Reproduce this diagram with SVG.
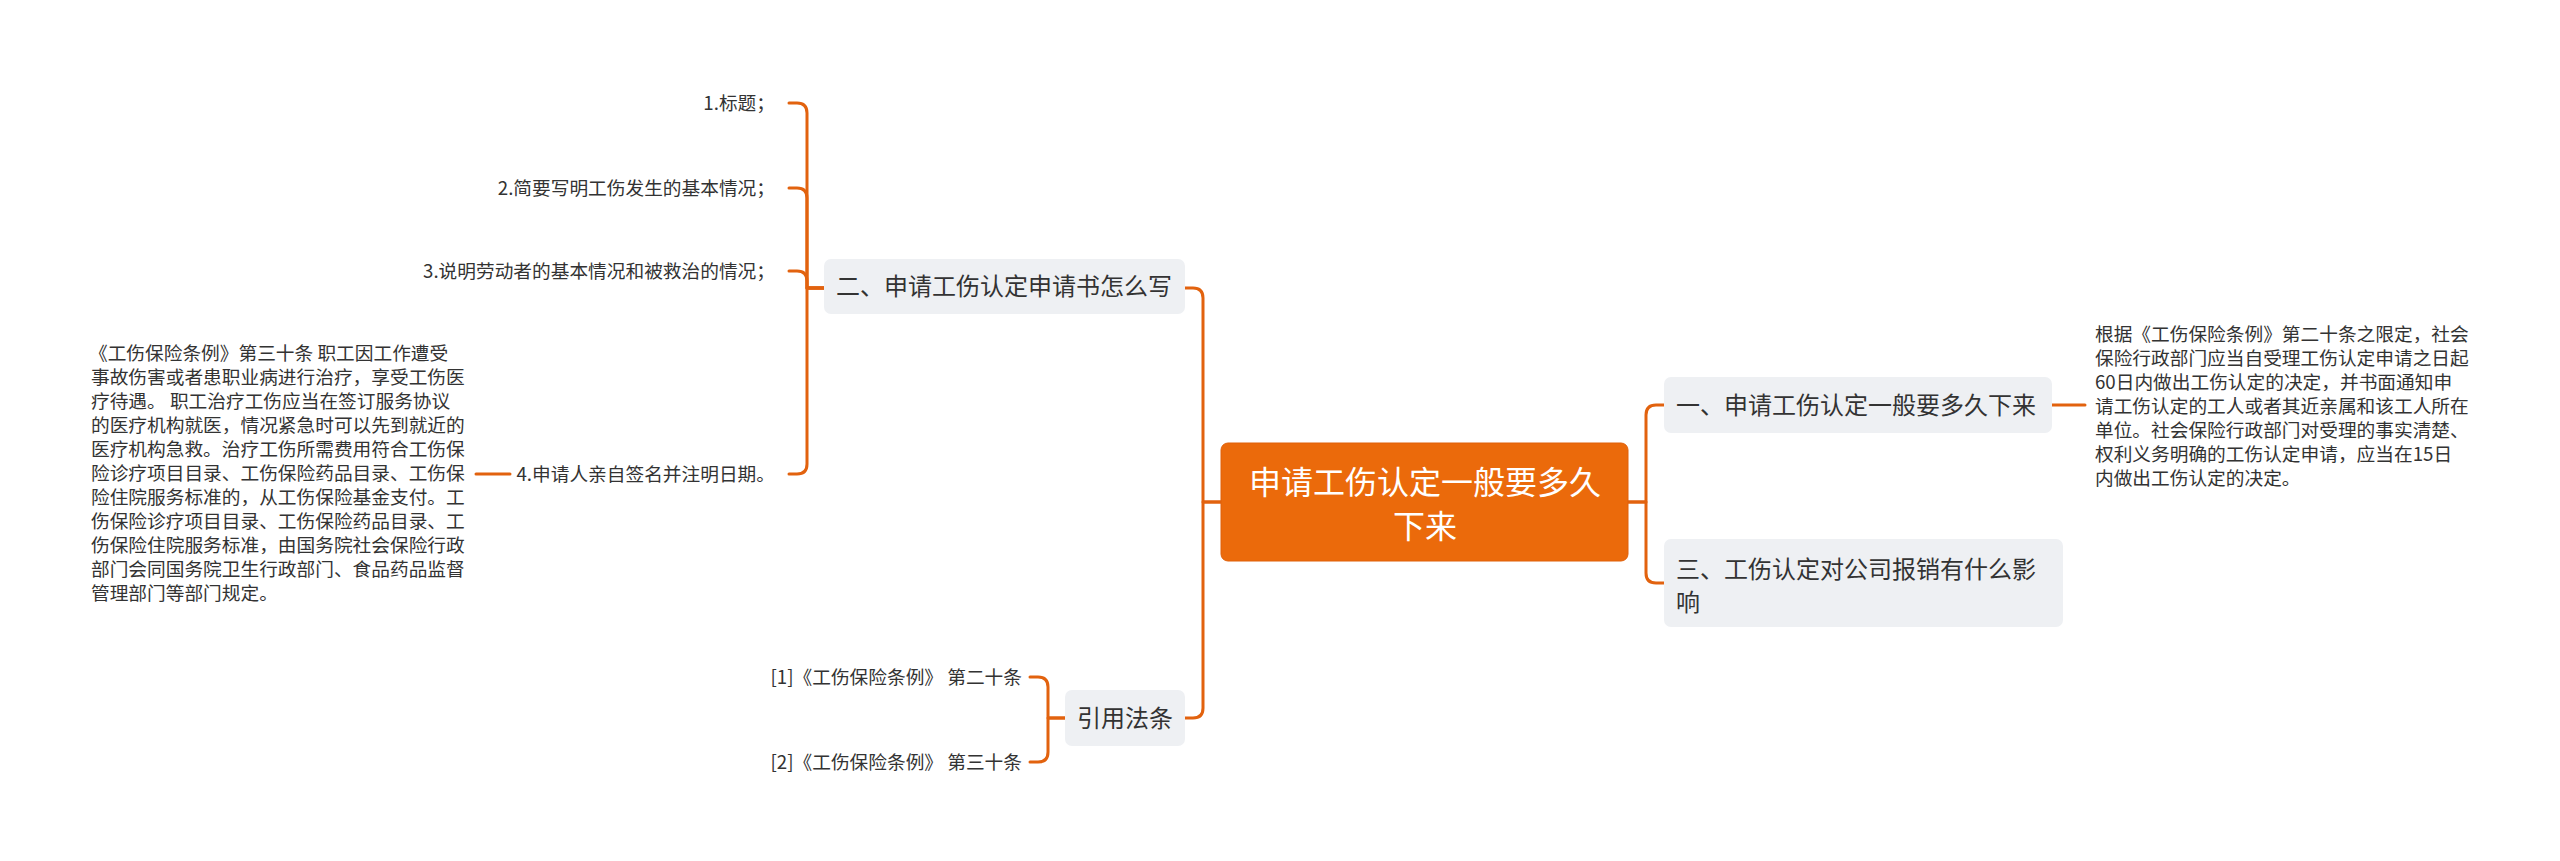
<svg xmlns="http://www.w3.org/2000/svg" width="2560" height="861" viewBox="0 0 2560 861">
<defs>
<style>
text{font-family:"Noto Sans CJK SC","Noto Sans",sans-serif;fill:#333333}
.sm{font-size:18.7px}
.nd{font-size:24px}
.ct{font-size:32px;fill:#ffffff}
.box{fill:#EEF0F3}
.root{fill:#EB6A0B;stroke:#E0600A;stroke-width:1}
.ln{fill:none;stroke:#E2620E;stroke-width:3;stroke-linecap:round;stroke-linejoin:round}
</style>
</defs>
<rect width="2560" height="861" fill="#ffffff"/>
<g id="connectors">
<path class="ln" d="M1221,502 H1203 V298 Q1203,288 1193,288 H1185"/>
<path class="ln" d="M1221,502 H1203 V708 Q1203,718 1193,718 H1185"/>
<path class="ln" d="M1628,502 H1646 V415 Q1646,405 1656,405 H1664"/>
<path class="ln" d="M1628,502 H1646 V573 Q1646,583 1656,583 H1664"/>
<path class="ln" d="M824,288 H807 V113 Q807,103 797,103 H789"/>
<path class="ln" d="M824,288 H807 V198 Q807,188 797,188 H789"/>
<path class="ln" d="M824,288 H807 V281 Q807,271 797,271 H789"/>
<path class="ln" d="M824,288 H807 V464 Q807,474 797,474 H789"/>
<path class="ln" d="M510,474 H476"/>
<path class="ln" d="M1065,718 H1048 V687 Q1048,677 1038,677 H1030"/>
<path class="ln" d="M1065,718 H1048 V752 Q1048,762 1038,762 H1030"/>
<path class="ln" d="M2052,405 H2085"/>
</g>
<g id="root">
<rect class="root" x="1221" y="443" width="407" height="118" rx="7"/>
<text class="ct" x="1425" y="494" text-anchor="middle">申请工伤认定一般要多久</text>
<text class="ct" x="1425" y="538" text-anchor="middle">下来</text>
</g>
<g id="n-er">
<rect class="box" x="824" y="259" width="361" height="55" rx="7"/>
<text class="nd" x="836" y="295">二、申请工伤认定申请书怎么写</text>
</g>
<g id="n-yinyong">
<rect class="box" x="1065" y="690" width="120" height="56" rx="7"/>
<text class="nd" x="1077" y="727">引用法条</text>
</g>
<g id="n-yi">
<rect class="box" x="1664" y="377" width="388" height="56" rx="7"/>
<text class="nd" x="1676" y="414">一、申请工伤认定一般要多久下来</text>
</g>
<g id="n-san">
<rect class="box" x="1664" y="539" width="399" height="88" rx="7"/>
<text class="nd" x="1676" y="578">三、工伤认定对公司报销有什么影</text>
<text class="nd" x="1676" y="611">响</text>
</g>
<g id="n-item1"><text class="sm" x="775" y="110" text-anchor="end">1.标题；</text></g>
<g id="n-item2"><text class="sm" x="775" y="195" text-anchor="end">2.简要写明工伤发生的基本情况；</text></g>
<g id="n-item3"><text class="sm" x="775" y="278" text-anchor="end">3.说明劳动者的基本情况和被救治的情况；</text></g>
<g id="n-item4"><text class="sm" x="775" y="481" text-anchor="end">4.申请人亲自签名并注明日期。</text></g>
<g id="n-para">
<text class="sm" x="89" y="360">《工伤保险条例》第三十条 职工因工作遭受</text>
<text class="sm" x="91" y="384">事故伤害或者患职业病进行治疗，享受工伤医</text>
<text class="sm" x="91" y="408">疗待遇。 职工治疗工伤应当在签订服务协议</text>
<text class="sm" x="91" y="432">的医疗机构就医，情况紧急时可以先到就近的</text>
<text class="sm" x="91" y="456">医疗机构急救。治疗工伤所需费用符合工伤保</text>
<text class="sm" x="91" y="480">险诊疗项目目录、工伤保险药品目录、工伤保</text>
<text class="sm" x="91" y="504">险住院服务标准的，从工伤保险基金支付。工</text>
<text class="sm" x="91" y="528">伤保险诊疗项目目录、工伤保险药品目录、工</text>
<text class="sm" x="91" y="552">伤保险住院服务标准，由国务院社会保险行政</text>
<text class="sm" x="91" y="576">部门会同国务院卫生行政部门、食品药品监督</text>
<text class="sm" x="91" y="600">管理部门等部门规定。</text>
</g>
<g id="n-ref1"><text class="sm" x="1022" y="684" text-anchor="end">[1]《工伤保险条例》 第二十条</text></g>
<g id="n-ref2"><text class="sm" x="1022" y="769" text-anchor="end">[2]《工伤保险条例》 第三十条</text></g>
<g id="n-right">
<text class="sm" x="2095" y="341">根据《工伤保险条例》第二十条之限定，社会</text>
<text class="sm" x="2095" y="365">保险行政部门应当自受理工伤认定申请之日起</text>
<text class="sm" x="2095" y="389">60日内做出工伤认定的决定，并书面通知申</text>
<text class="sm" x="2095" y="413">请工伤认定的工人或者其近亲属和该工人所在</text>
<text class="sm" x="2095" y="437">单位。社会保险行政部门对受理的事实清楚、</text>
<text class="sm" x="2095" y="461">权利义务明确的工伤认定申请，应当在15日</text>
<text class="sm" x="2095" y="485">内做出工伤认定的决定。</text>
</g>
</svg>
